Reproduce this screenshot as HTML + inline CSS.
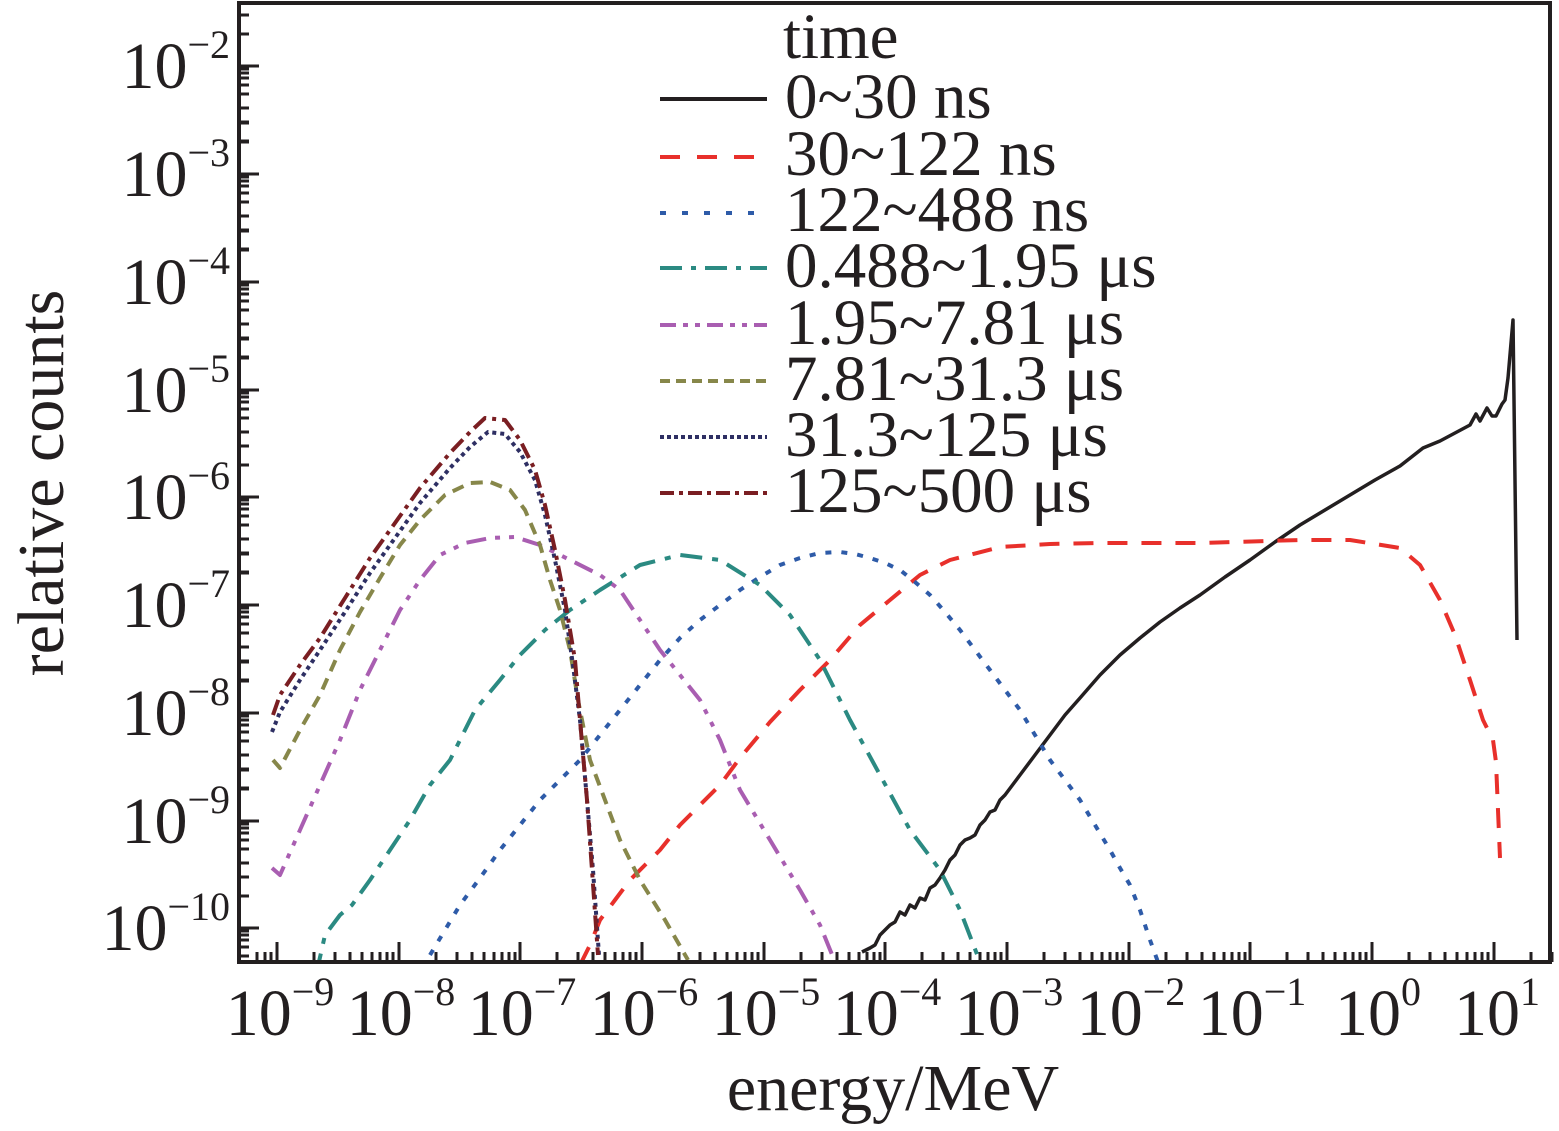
<!DOCTYPE html>
<html><head><meta charset="utf-8"><style>
html,body{margin:0;padding:0;background:#fff;}
svg{display:block;}
text{font-family:"Liberation Serif",serif;fill:#231f20;}
</style></head><body>
<svg width="1559" height="1131" viewBox="0 0 1559 1131" xmlns="http://www.w3.org/2000/svg">
<rect x="0" y="0" width="1559" height="1131" fill="#fff"/>
<g fill="none" stroke-width="4" stroke-linejoin="round">
<polyline stroke="#231f20" stroke-width="3.5" points="862,952 870,948 875,945 880,935 885,930 890,925 895,922 900,912 905,915 910,905 915,908 920,898 925,900 930,888 935,885 940,878 945,870 950,860 955,855 960,845 965,840 970,838 975,835 980,825 985,820 990,812 995,810 1000,800 1005,795 1020,775 1035,755 1050,735 1065,715 1080,698 1100,675 1120,655 1140,638 1160,622 1180,608 1200,595 1225,577 1250,560 1275,542 1300,525 1325,510 1350,495 1375,480 1400,466 1423,448 1440,441 1455,433 1470,425 1476,414 1480,421 1487,408 1492,416 1496,416 1502,404 1505,400 1508,378 1513,320 1517,640"/>
<polyline stroke="#e8302b" stroke-dasharray="20,14" points="580,965 590,945 600,920 615,900 630,880 645,865 660,850 680,825 700,805 720,785 740,758 770,722 800,690 830,660 860,625 890,600 920,575 950,560 1000,547 1050,544 1100,543 1200,543 1300,540 1350,540 1400,548 1420,565 1440,600 1455,635 1470,680 1483,720 1493,740 1496,762 1500,858"/>
<polyline stroke="#2e5ba8" stroke-dasharray="6,10" points="430,955 445,930 460,905 480,878 500,850 520,825 540,800 560,780 580,760 600,735 620,710 640,685 660,660 680,638 700,620 720,605 740,590 760,577 780,565 800,558 820,553 840,552 855,554 870,558 885,563 900,570 915,582 930,595 945,612 960,630 975,650 990,670 1005,690 1020,710 1035,735 1050,760 1065,780 1080,800 1095,825 1110,850 1120,868 1130,885 1140,910 1150,940 1158,962"/>
<polyline stroke="#2b8a82" stroke-dasharray="22,10,6,10" points="316,975 325,935 340,915 352,905 370,880 390,850 410,820 430,785 450,760 475,710 500,680 520,655 545,630 570,610 600,590 640,565 680,555 720,560 760,585 790,615 820,660 850,720 880,775 910,830 940,870 960,910 980,962"/>
<polyline stroke="#a95eb1" stroke-dasharray="20,9,5,9,5,9" points="272,868 280,875 300,830 320,785 340,740 360,690 380,650 400,610 420,580 440,555 465,543 490,538 515,537 540,545 560,555 600,575 620,590 640,620 660,650 680,675 700,700 720,740 740,790 770,840 800,890 820,925 835,962"/>
<polyline stroke="#87874a" stroke-dasharray="12,8" points="273,760 280,768 300,730 320,695 340,650 360,612 380,578 400,545 420,520 445,495 470,483 490,482 510,490 525,510 540,545 550,580 560,610 570,650 578,700 590,760 605,800 620,840 640,880 665,920 688,960"/>
<polyline stroke="#2e2f63" stroke-dasharray="4,4" points="272,732 280,712 300,680 320,650 345,612 370,573 395,538 420,503 450,468 470,447 488,432 505,434 520,452 535,480 545,515 555,560 565,610 573,665 580,720 587,800 593,870 599,955"/>
<polyline stroke="#7a1e22" stroke-dasharray="16,6,4,6" points="273,715 280,695 300,665 320,638 345,598 370,558 395,523 420,488 450,453 470,432 485,418 505,420 520,440 535,470 545,505 555,550 565,600 575,660 580,720 587,800 592,870 598,955"/>
</g>
<rect x="0" y="964" width="1559" height="20" fill="#fff"/>
<g stroke="#231f20" stroke-width="3">
<path d="M239,66h20M239,174h20M239,282h20M239,390h20M239,497h20M239,605h20M239,713h20M239,821h20M239,928h20"/>
<path id="ym" d="M239,34h10M239,15h10M239,141h10M239,108h10M239,122h10M239,94h10M239,85h10M239,78h10M239,73h10M239,69h10"/>
<use href="#ym" y="108"/><use href="#ym" y="216"/><use href="#ym" y="324"/><use href="#ym" y="431"/><use href="#ym" y="539"/><use href="#ym" y="647"/><use href="#ym" y="755"/><use href="#ym" y="862"/>
<path d="M277,962v-20M399,962v-20M520,962v-20M642,962v-20M764,962v-20M885,962v-20M1007,962v-20M1129,962v-20M1250,962v-20M1372,962v-20M1494,962v-20"/>
<path d="M257,962v-10M265,962v-10M271,962v-10"/>
<path id="xm" d="M314,962v-10M335,962v-10M350,962v-10M362,962v-10M372,962v-10M380,962v-10M387,962v-10M393,962v-10"/>
<use href="#xm" x="122"/><use href="#xm" x="243"/><use href="#xm" x="365"/><use href="#xm" x="487"/><use href="#xm" x="608"/><use href="#xm" x="730"/><use href="#xm" x="852"/><use href="#xm" x="973"/><use href="#xm" x="1095"/><use href="#xm" x="1217"/>
</g>
<rect x="225" y="963" width="40" height="50" fill="#fff"/>
<rect x="239" y="3" width="1311" height="959" fill="none" stroke="#231f20" stroke-width="4"/>
<g font-size="66" text-anchor="end">
<text x="230" y="88">10<tspan font-size="40" dy="-30">−2</tspan></text>
<text x="230" y="196">10<tspan font-size="40" dy="-30">−3</tspan></text>
<text x="230" y="304">10<tspan font-size="40" dy="-30">−4</tspan></text>
<text x="230" y="412">10<tspan font-size="40" dy="-30">−5</tspan></text>
<text x="230" y="519">10<tspan font-size="40" dy="-30">−6</tspan></text>
<text x="230" y="627">10<tspan font-size="40" dy="-30">−7</tspan></text>
<text x="230" y="735">10<tspan font-size="40" dy="-30">−8</tspan></text>
<text x="230" y="843">10<tspan font-size="40" dy="-30">−9</tspan></text>
<text x="230" y="950">10<tspan font-size="40" dy="-30">−10</tspan></text>
</g>
<g font-size="66" text-anchor="middle">
<text x="280" y="1035">10<tspan font-size="40" dy="-30">−9</tspan></text>
<text x="401" y="1035">10<tspan font-size="40" dy="-30">−8</tspan></text>
<text x="522" y="1035">10<tspan font-size="40" dy="-30">−7</tspan></text>
<text x="644" y="1035">10<tspan font-size="40" dy="-30">−6</tspan></text>
<text x="766" y="1035">10<tspan font-size="40" dy="-30">−5</tspan></text>
<text x="887" y="1035">10<tspan font-size="40" dy="-30">−4</tspan></text>
<text x="1009" y="1035">10<tspan font-size="40" dy="-30">−3</tspan></text>
<text x="1131" y="1035">10<tspan font-size="40" dy="-30">−2</tspan></text>
<text x="1252" y="1035">10<tspan font-size="40" dy="-30">−1</tspan></text>
<text x="1378" y="1035">10<tspan font-size="40" dy="-30">0</tspan></text>
<text x="1497" y="1035">10<tspan font-size="40" dy="-30">1</tspan></text>
</g>
<text x="893" y="1110" font-size="66" text-anchor="middle">energy/MeV</text>
<text transform="translate(63,483) rotate(-90)" font-size="66" text-anchor="middle">relative counts</text>
<g fill="none" stroke-width="4">
<path d="M660,99H767" stroke="#231f20"/>
<path d="M660,157H767" stroke="#e8302b" stroke-dasharray="20,17"/>
<path d="M660,213H767" stroke="#2e5ba8" stroke-dasharray="6,16"/>
<path d="M660,268H767" stroke="#2b8a82" stroke-dasharray="22,9,5,9"/>
<path d="M660,325H767" stroke="#a95eb1" stroke-dasharray="16,7,5,7,5,7"/>
<path d="M660,381H767" stroke="#87874a" stroke-dasharray="10,6"/>
<path d="M660,437H767" stroke="#2e2f63" stroke-dasharray="4,3"/>
<path d="M660,493H767" stroke="#7a1e22" stroke-dasharray="14,5,4,5"/>
</g>
<g font-size="65">
<text x="783" y="58">time</text>
<text x="785" y="118">0~30 ns</text>
<text x="785" y="175">30~122 ns</text>
<text x="785" y="231">122~488 ns</text>
<text x="785" y="287">0.488~1.95 μs</text>
<text x="785" y="344">1.95~7.81 μs</text>
<text x="785" y="400">7.81~31.3 μs</text>
<text x="785" y="456">31.3~125 μs</text>
<text x="785" y="512">125~500 μs</text>
</g>
</svg>
</body></html>
